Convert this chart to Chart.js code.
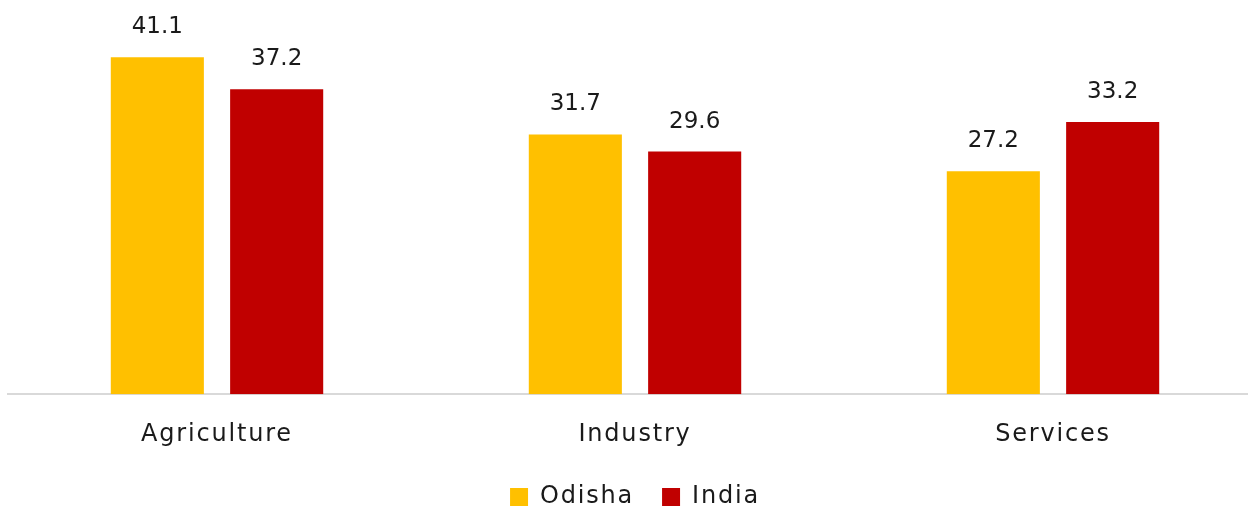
<!DOCTYPE html>
<html>
<head>
<meta charset="utf-8">
<script src="https://cdn.jsdelivr.net/npm/chart.js@4"></script>
<style>
  html, body { margin: 0; padding: 0; background: #fff; overflow: hidden; }
  #wrap { width: 1262px; height: 509px; }
</style>
</head>
<body>
<div id="wrap"><canvas id="sectorChart"></canvas></div>
<script>
const categories = ['Agriculture', 'Industry', 'Services'];
const seriesNames = ['Odisha', 'India'];
const odishaValues = [41.1, 31.7, 27.2];
const indiaValues = [37.2, 29.6, 33.2];

const FONT = "'DejaVu Sans', sans-serif";
const SPACING = '1.8px';

// wider tracking for axis + legend text (the original font is a wide geometric sans)
const tracking = {
  id: 'tracking',
  beforeLayout(chart) { chart.ctx.letterSpacing = SPACING; },
  beforeDraw(chart) { chart.ctx.letterSpacing = SPACING; },
};

// value labels above each bar
const valueLabels = {
  id: 'valueLabels',
  afterDatasetsDraw(chart) {
    const c = chart.ctx;
    c.save();
    c.letterSpacing = '0px';
    c.font = '23px ' + FONT;
    c.fillStyle = '#1a1a1a';
    c.textAlign = 'center';
    c.textBaseline = 'middle';
    chart.data.datasets.forEach((ds, i) => {
      chart.getDatasetMeta(i).data.forEach((bar, j) => {
        c.fillText(ds.data[j].toFixed(1), bar.x, bar.y - 30);
      });
    });
    c.restore();
  }
};

const ctx = document.getElementById('sectorChart').getContext('2d');
const sectorChart = new Chart(ctx, {
  type: 'bar',
  data: {
    labels: categories,
    datasets: [
      { label: seriesNames[0], data: odishaValues, backgroundColor: '#FFC000' },
      { label: seriesNames[1], data: indiaValues, backgroundColor: '#C00000' },
    ],
  },
  options: {
    responsive: true,
    maintainAspectRatio: false,
    animation: false,
    layout: { padding: { left: 8, right: 0, top: 0, bottom: -10 } },
    datasets: {
      bar: { categoryPercentage: 0.571, barPercentage: 0.78 }
    },
    scales: {
      x: {
        grid: { display: false },
        border: { color: '#d9d9d9', width: 2 },
        ticks: { font: { family: FONT, size: 24 }, color: '#1a1a1a', padding: 18 },
        afterFit(scale) { scale.height -= 10; },
      },
      y: {
        display: false,
        min: 0,
        max: 48.1,
      },
    },
    plugins: {
      legend: {
        position: 'bottom',
        labels: {
          font: { family: FONT, size: 24 },
          color: '#1a1a1a',
          boxWidth: 18,
          boxHeight: 18,
          padding: 28,
        },
      },
      tooltip: { enabled: false },
    },
  },
  plugins: [tracking, valueLabels],
});
</script>
</body>
</html>
